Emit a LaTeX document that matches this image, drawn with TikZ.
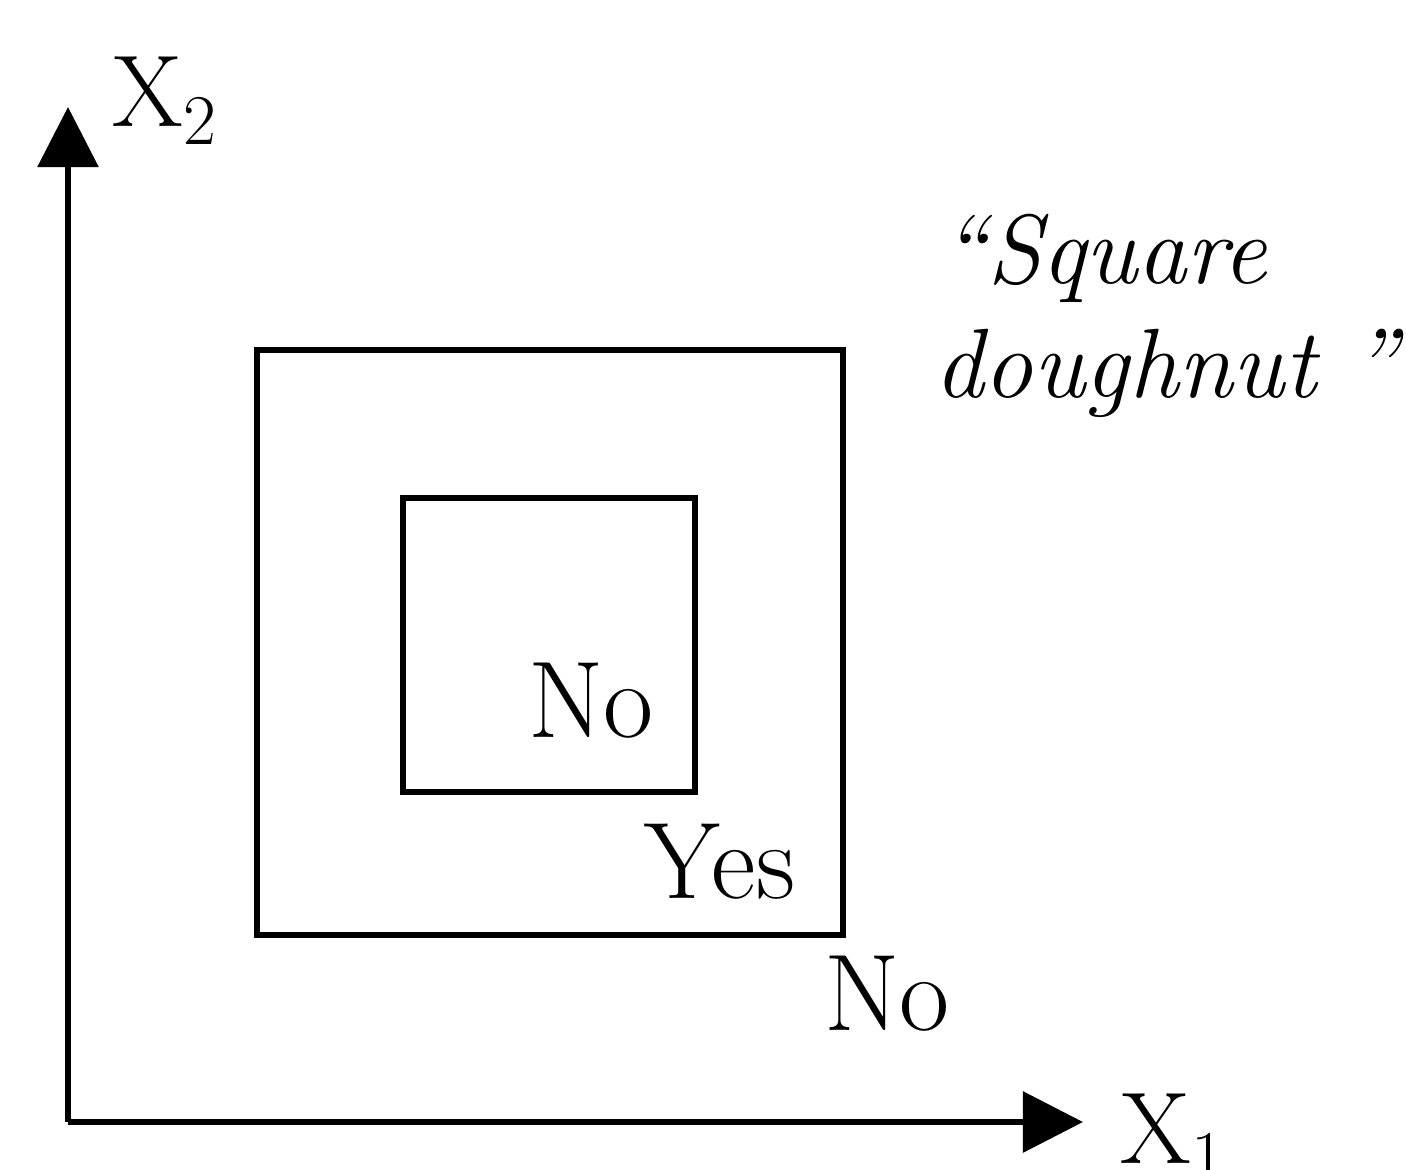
\documentclass[tikz,border=0pt]{standalone}
\usetikzlibrary{arrows.meta}
\tikzset{donut/.style={x=0.01cm,y=-0.01cm,line width=1.7pt}}
\tikzset{axis/.style={-{Triangle[width=0.6cm,length=0.6cm]}},
         lbl/.style={font=\fontsize{31}{37}\selectfont,anchor=base},
         quote/.style={font=\fontsize{28}{33}\selectfont\itshape,anchor=base west}}

\begin{document}
\begin{tikzpicture}[donut]
    \useasboundingbox (0,0) rectangle (1406,1170);
    \coordinate (origin) at (68,1122);
    \coordinate (x2tip) at (68,107);
    \coordinate (x1tip) at (1083,1122);
    \draw[axis] (origin) -- (x2tip);
    \draw[axis] (origin) -- (x1tip);
    \node[lbl,anchor=base west,font=\fontsize{29}{34}\selectfont] (x2) at (98,127) {X\textsubscript{2}};
    \node[lbl,anchor=base west,font=\fontsize{29}{34}\selectfont] (x1) at (1106,1163) {X\textsubscript{1}};
    \draw (257,350) rectangle (843,935);   % outer square
    \draw (403,498) rectangle (695,792);   % hole
    \node[lbl] (nohole) at (591,737) {No};
    \node[lbl] (yes) at (720,898) {Yes};
    \node[lbl] (noout) at (887,1030) {No};
    \node[quote] (title) at (926,283) {``Square};
    \node[quote] (title2) at (920,397) {doughnut ''};
\end{tikzpicture}
\end{document}
